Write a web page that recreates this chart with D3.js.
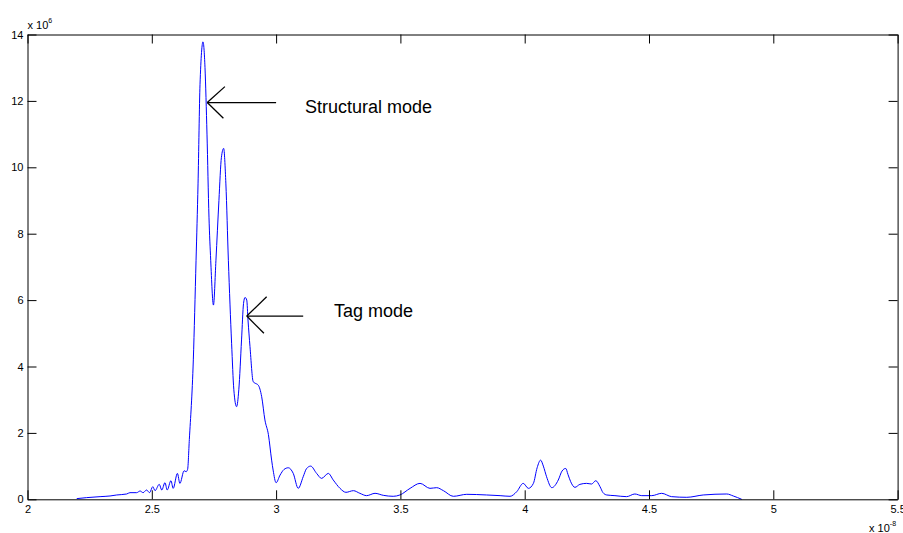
<!DOCTYPE html>
<html>
<head>
<meta charset="utf-8">
<style>
  body { margin: 0; background: #fff; }
  text { font-family: "Liberation Sans", Arial, sans-serif; }
  .tick text { font-size: 11px; fill: #000; }
  .note { font-size: 18px; fill: #000; }
  .expo { font-size: 11px; fill: #000; }
</style>
</head>
<body>
<svg id="chart" width="903" height="533"></svg>
<script src="https://cdn.jsdelivr.net/npm/d3@7"></script>
<script>
// time axis in units of 1e-8, amplitude in units of 1e6
var xVals = [2.198, 2.238, 2.292, 2.332, 2.359, 2.399, 2.412, 2.439, 2.453, 2.465,
  2.479, 2.491, 2.504, 2.513, 2.530, 2.540, 2.553, 2.562, 2.577, 2.586,
  2.603, 2.613, 2.630, 2.638, 2.644, 2.651, 2.667, 2.678,
  2.686, 2.694, 2.706, 2.714, 2.722, 2.730, 2.737, 2.748, 2.758, 2.770,
  2.780, 2.789, 2.798, 2.808, 2.821, 2.830, 2.841, 2.850, 2.861, 2.869,
  2.875, 2.882, 2.887, 2.895, 2.908, 2.915, 2.928, 2.942, 2.955, 2.969,
  2.982, 2.988, 3.000, 3.016, 3.032, 3.049, 3.069, 3.089, 3.109, 3.122,
  3.139, 3.163, 3.183, 3.210, 3.230, 3.257, 3.281, 3.311, 3.337, 3.364,
  3.398, 3.431, 3.471, 3.498, 3.539, 3.579, 3.619, 3.646, 3.673, 3.713,
  3.767, 3.847, 3.901, 3.941, 3.968, 3.994, 4.015, 4.035, 4.050, 4.064,
  4.075, 4.088, 4.109, 4.135, 4.150, 4.165, 4.174, 4.185, 4.202, 4.222,
  4.249, 4.269, 4.286, 4.303, 4.315, 4.330, 4.363, 4.410, 4.443, 4.471,
  4.511, 4.551, 4.591, 4.652, 4.718, 4.813, 4.839, 4.873];
var yVals = [0.02, 0.05, 0.08, 0.10, 0.13, 0.16, 0.20, 0.20, 0.25, 0.20,
  0.28, 0.20, 0.38, 0.26, 0.45, 0.28, 0.50, 0.28, 0.56, 0.33,
  0.78, 0.48, 0.86, 0.83, 0.90, 1.80, 4.2, 7.2,
  9.5, 12.5, 13.78, 13.0, 11.0, 8.5, 7.2, 5.85, 7.2, 9.0,
  10.3, 10.57, 9.5, 7.2, 4.7, 3.3, 2.79, 3.3, 4.8, 5.9,
  6.08, 6.0, 5.4, 4.6, 3.54, 3.5, 3.44, 3.09, 2.39, 1.95,
  1.18, 0.88, 0.50, 0.73, 0.90, 0.95, 0.78, 0.33, 0.68, 0.92,
  1.00, 0.78, 0.63, 0.78, 0.58, 0.33, 0.21, 0.26, 0.18, 0.11,
  0.18, 0.12, 0.09, 0.13, 0.33, 0.48, 0.33, 0.35, 0.26, 0.09,
  0.15, 0.13, 0.11, 0.09, 0.23, 0.48, 0.33, 0.48, 0.95, 1.18,
  1.00, 0.68, 0.35, 0.58, 0.85, 0.93, 0.75, 0.53, 0.36, 0.45,
  0.48, 0.46, 0.56, 0.38, 0.20, 0.13, 0.11, 0.08, 0.16, 0.11,
  0.11, 0.18, 0.08, 0.06, 0.13, 0.16, 0.10, 0.00];

var xTicks = [2, 2.5, 3, 3.5, 4, 4.5, 5, 5.5];
var yTicks = [0, 2, 4, 6, 8, 10, 12, 14];

// arrows: tip, tail end, two barb ends, label position (data units)
var notes = [
  {text: "Structural mode", tip: [2.723, 11.95], tail: [3.0, 11.95],
   barbs: [[2.794, 12.43], [2.788, 11.48]], label: [3.116, 11.63]},
  {text: "Tag mode", tip: [2.882, 5.52], tail: [3.109, 5.52],
   barbs: [[2.962, 6.10], [2.951, 5.0]], label: [3.233, 5.49]}
];

var svg = d3.select("#chart"),
    plotL = 27.5, plotR = 897.6, plotT = 34.5, plotB = 499.3;

var x = d3.scaleLinear().domain([2, 5.5]).range([plotL, plotR]);
var y = d3.scaleLinear().domain([0, 14]).range([plotB, plotT]);

var data = xVals.map(function(d, i) { return {x: d, y: yVals[i]}; });

var line = d3.line()
    .x(function(d) { return x(d.x); })
    .y(function(d) { return y(d.y); })
    .curve(d3.curveMonotoneX);

svg.append("path")
    .datum(data)
    .attr("fill", "none")
    .attr("stroke", "#0000ff")
    .attr("stroke-width", 1)
    .attr("d", line);

// box axes with inward ticks like matlab
var fmt = function(d) { return String(d); };
svg.append("g")
    .attr("transform", "translate(0," + plotB + ")")
    .call(d3.axisBottom(x).tickValues(xTicks).tickFormat(fmt).tickSizeInner(-9).tickSizeOuter(0).tickPadding(6));
svg.append("g")
    .attr("transform", "translate(0," + plotT + ")")
    .call(d3.axisTop(x).tickValues(xTicks).tickFormat("").tickSizeInner(-9).tickSizeOuter(0));
svg.append("g")
    .attr("transform", "translate(" + plotL + ",0)")
    .call(d3.axisLeft(y).tickValues(yTicks).tickFormat(fmt).tickSizeInner(-9).tickSizeOuter(0).tickPadding(4));
svg.append("g")
    .attr("transform", "translate(" + plotR + ",0)")
    .call(d3.axisRight(y).tickValues(yTicks).tickFormat("").tickSizeInner(-9).tickSizeOuter(0));

svg.selectAll(".domain").attr("stroke", "#000");
svg.selectAll(".tick line").attr("stroke", "#000");
svg.selectAll(".tick text").attr("font-family", null).attr("font-size", null);

// exponent labels
var e1 = svg.append("text").attr("class", "expo").attr("x", plotL).attr("y", 29);
e1.append("tspan").text("x 10");
e1.append("tspan").attr("font-size", "7px").attr("dy", -6).text("6");

var e2 = svg.append("text").attr("class", "expo").attr("x", 869).attr("y", 532);
e2.append("tspan").text("x 10");
e2.append("tspan").attr("font-size", "7px").attr("dy", -6).text("-8");

// annotations
var ann = svg.selectAll(".ann").data(notes).enter().append("g").attr("class", "ann");
ann.append("line")
    .attr("x1", function(d) { return x(d.tip[0]); })
    .attr("y1", function(d) { return y(d.tip[1]); })
    .attr("x2", function(d) { return x(d.tail[0]); })
    .attr("y2", function(d) { return y(d.tail[1]); })
    .attr("stroke", "#000").attr("stroke-width", 1.3);
ann.each(function(d) {
  var g = d3.select(this);
  d.barbs.forEach(function(b) {
    g.append("line")
        .attr("x1", x(d.tip[0])).attr("y1", y(d.tip[1]))
        .attr("x2", x(b[0])).attr("y2", y(b[1]))
        .attr("stroke", "#000").attr("stroke-width", 1.3);
  });
});
ann.append("text")
    .attr("class", "note")
    .attr("x", function(d) { return x(d.label[0]); })
    .attr("y", function(d) { return y(d.label[1]); })
    .text(function(d) { return d.text; });
</script>
</body>
</html>
